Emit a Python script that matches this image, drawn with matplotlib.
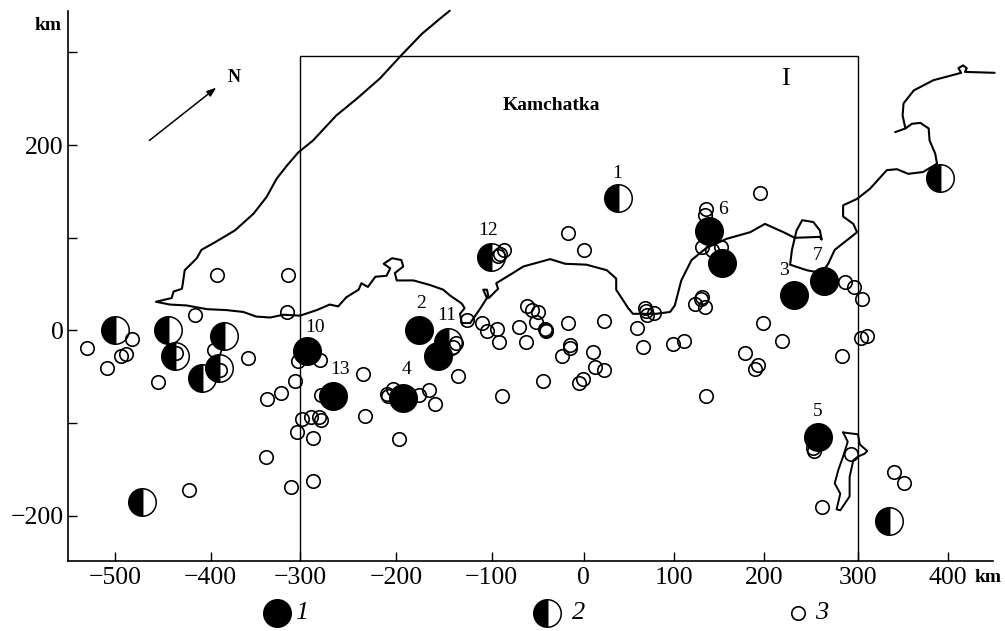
import matplotlib
matplotlib.use("Agg")
import matplotlib.pyplot as plt

plt.rcParams['font.family'] = ['Liberation Serif', 'DejaVu Serif']

W, H = 1005, 631
INK = '#000000'

# --- data (km) ---
strong_x = [-172, 231, -189, 257, 140, 154, 263, -293, -265, -152]
strong_y = [1, 38, -73, -115, 107, 73, 53, -22, -71, -27]

medium_x = [-499, -442, -382, -434, -405, -387, -470, 388, 333, 42, -141, -95]
medium_y = [0, 0, -6, -28, -51, -41, -185, 165, -206, 143, -12, 79]

weak_x = [-389, -313, -413, -314, -529, -481, -487, -492, -508, -453, -392, -356, -433, -386,
          -305, -320, -336, -302, -279, -277, -232, -230, -298, -288, -280, -277, -303, -286,
          -337, -286, -310, -419, -207, -205, -200, -194, -172, -161, -155, -130, -83, -120,
          -104, -99, -88, -86, -132, -136, -81, -85, -87, -56, -50, -44, -46, -37, -36, -36,
          -65, -57, -12, 27, -10, -10, -18, 15, 17, 27, -39, 4, 0, 62, 69, 101, 113, 179, 192,
          189, 198, 218, 283, 303, 310, 137, 253, 252, 261, 292, 339, 349, -12, 5, 195, 137,
          136, 132, 143, 153, 71, 72, 73, 81, 132, 131, 125, 135, 286, 296, 304]
weak_y = [60, 60, 17, 20, -19, -9, -25, -28, -41, -56, -21, -30, -24, -43,
          -55, -67, -74, -33, -32, -70, -47, -92, -95, -93, -93, -97, -110, -116,
          -136, -162, -169, -172, -68, -71, -63, -117, -70, -64, -79, -49, -71, 11,
          8, -1, 2, -12, -14, -18, 87, 83, 80, 26, 22, 20, 9, 2, 1, -1,
          4, -12, 8, 10, -16, -19, -27, -23, -39, -43, -54, -52, -57, 3, -18, -15, -11, -24, -37,
          -42, 8, -11, -28, -8, -6, -71, -130, -127, -190, -133, -153, -165, 105, 87, 148, 131,
          125, 90, 87, 90, 24, 21, 17, 19, 36, 34, 29, 25, 52, 47, 34]

coast_x = [-139, -150, -169, -191, -214, -239, -261, -286, -302, -314, -325, -336, -350, -370,
           -390, -406, -411, -424, -426, -427, -436, -438, -455, -440, -422, -400, -379, -361,
           -347, -332, -318, -300, -282, -268, -259, -250, -237, -234, -227, -219, -207, -203,
           -210, -201, -191, -189, -198, -196, -178, -160, -146, -139, -126, -123, -128, -126,
           -117, -106, -99, -103, -99, -97, -87, -89, -71, -60, -31, -15, 8, 30, 40, 40, 53, 58,
           83, 98, 103, 110, 121, 137, 159, 184, 200, 220, 232, 259, 261, 259, 252, 240, 234,
           229, 227, 245, 261, 268, 275, 299, 295, 284, 284, 299, 313, 331, 342, 354, 370, 385,
           383, 377, 376, 367, 358, 351, 340]
coast_y = [345, 336, 320, 297, 272, 250, 232, 205, 192, 178, 164, 144, 126, 108,
           96, 87, 78, 65, 51, 45, 42, 35, 31, 28, 27, 23, 22, 20,
           15, 14, 17, 16, 22, 28, 26, 36, 44, 51, 47, 58, 59, 67,
           72, 78, 76, 69, 62, 54, 54, 49, 44, 38, 29, 24, 18, 8,
           8, 24, 35, 44, 44, 35, 45, 51, 62, 69, 77, 72, 71, 65, 56, 44, 24, 18,
           18, 20, 27, 54, 76, 89, 99, 106, 115, 106, 100, 101, 98, 108, 117, 119, 108,
           87, 71, 65, 62, 72, 87, 106, 115, 123, 135, 142, 153, 173, 174, 169, 171, 180,
           191, 205, 218, 224, 223, 218, 214]

north_x = [351, 348, 349, 360, 381, 411, 408, 413, 417, 415, 447]
north_y = [218, 232, 245, 259, 270, 278, 283, 286, 283, 279, 278]

island_x = [284, 300, 302, 310, 307, 300, 295, 291, 291, 291, 281, 277, 281, 275, 279, 284, 289, 284]
island_y = [-110, -112, -123, -130, -133, -136, -140, -158, -168, -179, -194, -193, -176, -165, -150, -136, -120, -110]

arrow_start = (-462, 205)
arrow_end = (-390, 262)

# measured tick places of the scanned axes, labelled with their nominal values
xtick_pos = [-499, -396, -300, -197, -94, 5, 102, 199, 300, 397]
xtick_labels = ['\u2212500', '\u2212400', '\u2212300', '\u2212200', '\u2212100', '0', '100', '200', '300', '400']
ytick_pos = [300, 200, 100, 0, -100, -200]
ytick_labels = ['', '200', '', '0', '', '\u2212200']

frame_x = [-300, -300, 300, 300]
frame_y = [-249, 296, 296, -249]

event_labels = ['1', '2', '3', '4', '5', '6', '7', '10', '11', '12', '13']
event_label_px = [(617, 173), (421, 303), (784, 270), (406, 370), (818, 411), (723, 210),
                  (818, 256), (315, 328), (447, 315), (488, 230), (340, 370)]

legend_x = [-325, -34, 235]
legend_y = -305

# --- figure ---
def fx(px):
    return px / W

def fy(py):
    return 1 - py / H

fig = plt.figure(figsize=(W / 100, H / 100), dpi=100, facecolor='white')
ax = fig.add_axes([fx(68), fy(561), fx(993) - fx(68), fy(11) - fy(561)])
ax.set_xlim(-549.5, 445.2)
ax.set_ylim(-248.7, 344.7)
ax.patch.set_alpha(0)

for side in ('top', 'right'):
    ax.spines[side].set_visible(False)
for side in ('left', 'bottom'):
    ax.spines[side].set_linewidth(1.2)
    ax.spines[side].set_color(INK)

ax.set_xticks(xtick_pos, xtick_labels)
ax.set_yticks(ytick_pos, ytick_labels)
ax.tick_params(axis='both', direction='in', length=6.5, width=1.0, color=INK,
               labelsize=18.5, labelcolor=INK)
ax.tick_params(axis='x', pad=4.5)
ax.tick_params(axis='y', pad=3)

LINE = dict(color=INK, solid_joinstyle='round', solid_capstyle='round', clip_on=False)
ax.plot(frame_x, frame_y, color=INK, lw=1.0, zorder=1)
ax.plot(coast_x, coast_y, lw=1.5, zorder=2, **LINE)
ax.plot(north_x, north_y, lw=1.5, zorder=2, **LINE)
ax.plot(island_x, island_y, lw=1.4, zorder=2, **LINE)

WEAK = dict(ls='none', marker='o', ms=9.7, mfc='none', mec=INK, mew=1.2, clip_on=False)
HALF = dict(ls='none', marker='o', ms=19.8, fillstyle='left', mfc=INK,
            markerfacecoloralt='none', mec=INK, mew=1.1, clip_on=False)
FULL = dict(ls='none', marker='o', ms=19.8, mfc=INK, mec=INK, mew=1.1, clip_on=False)

ax.plot(weak_x, weak_y, zorder=3, **WEAK)
ax.plot(medium_x, medium_y, zorder=4, **HALF)
ax.plot(strong_x, strong_y, zorder=5, **FULL)

ax.annotate('', xy=arrow_end, xytext=arrow_start,
            arrowprops=dict(arrowstyle='-|>,head_length=0.55,head_width=0.2', color=INK, lw=1.1,
                            shrinkA=0, shrinkB=0))

def label(px, py, s, **kw):
    kw.setdefault('color', INK)
    fig.text(fx(px), fy(py), s, ha='center', va='center', **kw)

for s, (px, py) in zip(event_labels, event_label_px):
    label(px, py, s, fontsize=14)

label(48, 25, 'km', fontsize=14, fontweight='bold')
label(988, 578, 'km', fontsize=14, fontweight='bold')
label(234, 78, 'N', fontsize=13, fontweight='bold')
label(551, 105, 'Kamchatka', fontsize=14, fontweight='bold')
label(785, 79, 'I', fontsize=19)

# legend row
ax.plot(legend_x[0], legend_y, **FULL)
ax.plot(legend_x[1], legend_y, **HALF)
ax.plot(legend_x[2], legend_y, **WEAK)
label(302, 613, '1', fontsize=19, style='italic')
label(579, 613, '2', fontsize=19, style='italic')
label(822, 613, '3', fontsize=19, style='italic')

fig.savefig('out.png', dpi=100)
